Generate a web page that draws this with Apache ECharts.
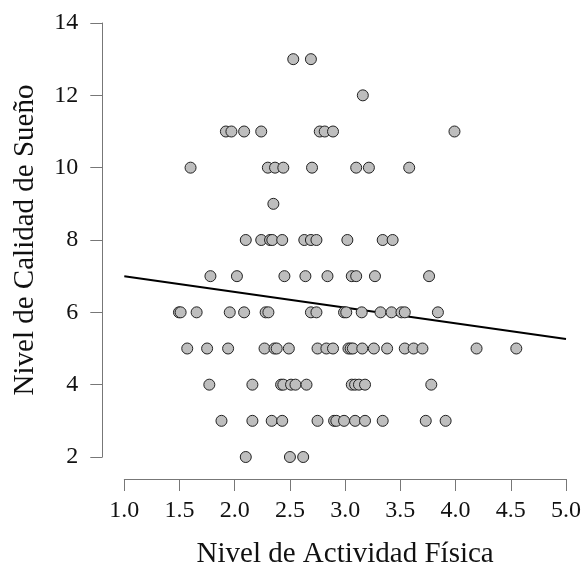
<!DOCTYPE html>
<html>
<head>
<meta charset="utf-8">
<script src="https://cdn.jsdelivr.net/npm/echarts@6/dist/echarts.min.js"></script>
<style>
html,body{margin:0;padding:0;background:#fff;}
#chart{width:584px;height:574px;}
</style>
</head>
<body>
<div id="chart"></div>
<script>
// Sleep quality levels (y) and the physical-activity values (x) observed at each level
var sleepLevels = [13, 12, 11, 10, 9, 8, 7, 6, 5, 4, 3, 2];
var act13 = [2.53, 2.69];
var act12 = [3.16];
var act11 = [1.92, 1.97, 2.085, 2.24, 2.77, 2.815, 2.89, 3.99];
var act10 = [1.60, 2.30, 2.365, 2.44, 2.70, 3.10, 3.215, 3.58];
var act9  = [2.35];
var act8  = [2.10, 2.24, 2.32, 2.34, 2.43, 2.63, 2.69, 2.74, 3.02, 3.34, 3.43];
var act7  = [1.78, 2.02, 2.45, 2.64, 2.84, 3.06, 3.10, 3.27, 3.76];
var act6  = [1.495, 1.51, 1.655, 1.955, 2.085, 2.28, 2.305, 2.69, 2.74, 2.99, 3.01, 3.15, 3.32, 3.42, 3.51, 3.54, 3.84];
var act5  = [1.57, 1.75, 1.94, 2.27, 2.36, 2.38, 2.49, 2.75, 2.83, 2.89, 3.03, 3.05, 3.07, 3.155, 3.26, 3.38, 3.54, 3.62, 3.70, 4.19, 4.55];
var act4  = [1.77, 2.16, 2.42, 2.44, 2.51, 2.55, 2.65, 3.06, 3.09, 3.125, 3.18, 3.78];
var act3  = [1.88, 2.16, 2.335, 2.43, 2.75, 2.90, 2.92, 2.99, 3.09, 3.18, 3.34, 3.73, 3.91];
var act2  = [2.10, 2.50, 2.62];
var activityByLevel = [act13, act12, act11, act10, act9, act8, act7, act6, act5, act4, act3, act2];

// Regression line: endpoints at x = 1 and x = 5
var lineX = [1.0, 5.0];
var lineY = [7.0, 5.26];

// Axis ticks
var xTicks = [1.0, 1.5, 2.0, 2.5, 3.0, 3.5, 4.0, 4.5, 5.0];
var yTicks = [2, 4, 6, 8, 10, 12, 14];

var points = [];
sleepLevels.forEach(function (lvl, i) {
  activityByLevel[i].forEach(function (a) { points.push([a, lvl]); });
});
var lineData = lineX.map(function (x, i) { return [x, lineY[i]]; });

var font = '"Liberation Serif", "DejaVu Serif", serif';
var chart = echarts.init(document.getElementById('chart'), null, {renderer: 'canvas'});
chart.setOption({
  animation: false,
  backgroundColor: '#ffffff',
  grid: {left: 124.3, right: 17.3, top: 23, bottom: 112.5, containLabel: false},
  xAxis: {
    type: 'value',
    min: xTicks[0], max: xTicks[xTicks.length - 1], interval: 0.5,
    offset: 22,
    name: 'Nivel de Actividad Física',
    nameLocation: 'middle',
    nameGap: 61,
    nameTextStyle: {fontFamily: font, fontSize: 29, color: '#111'},
    axisLine: {show: true, lineStyle: {color: '#777', width: 1}},
    axisTick: {show: true, length: 12, lineStyle: {color: '#777', width: 1}},
    axisLabel: {fontFamily: font, fontSize: 24, color: '#111', margin: 20,
      formatter: function (v) { return v.toFixed(1); }},
    splitLine: {show: false}
  },
  yAxis: {
    type: 'value',
    min: yTicks[0], max: yTicks[yTicks.length - 1], interval: 2,
    offset: 22,
    name: 'Nivel de Calidad de Sueño',
    nameLocation: 'middle',
    nameGap: 62,
    nameRotate: 90,
    nameTextStyle: {fontFamily: font, fontSize: 29, color: '#111'},
    axisLine: {show: true, lineStyle: {color: '#777', width: 1}},
    axisTick: {show: true, length: 12, lineStyle: {color: '#777', width: 1}},
    axisLabel: {fontFamily: font, fontSize: 24, color: '#111', margin: 24},
    splitLine: {show: false}
  },
  series: [
    {
      type: 'line',
      data: lineData,
      symbol: 'none',
      lineStyle: {color: '#000', width: 2},
      z: 1,
      silent: true
    },
    {
      type: 'scatter',
      data: points,
      symbol: 'circle',
      symbolSize: 11,
      itemStyle: {color: '#BEBEBE', borderColor: '#222', borderWidth: 1, opacity: 1},
      z: 2
    }
  ]
});
</script>
</body>
</html>
